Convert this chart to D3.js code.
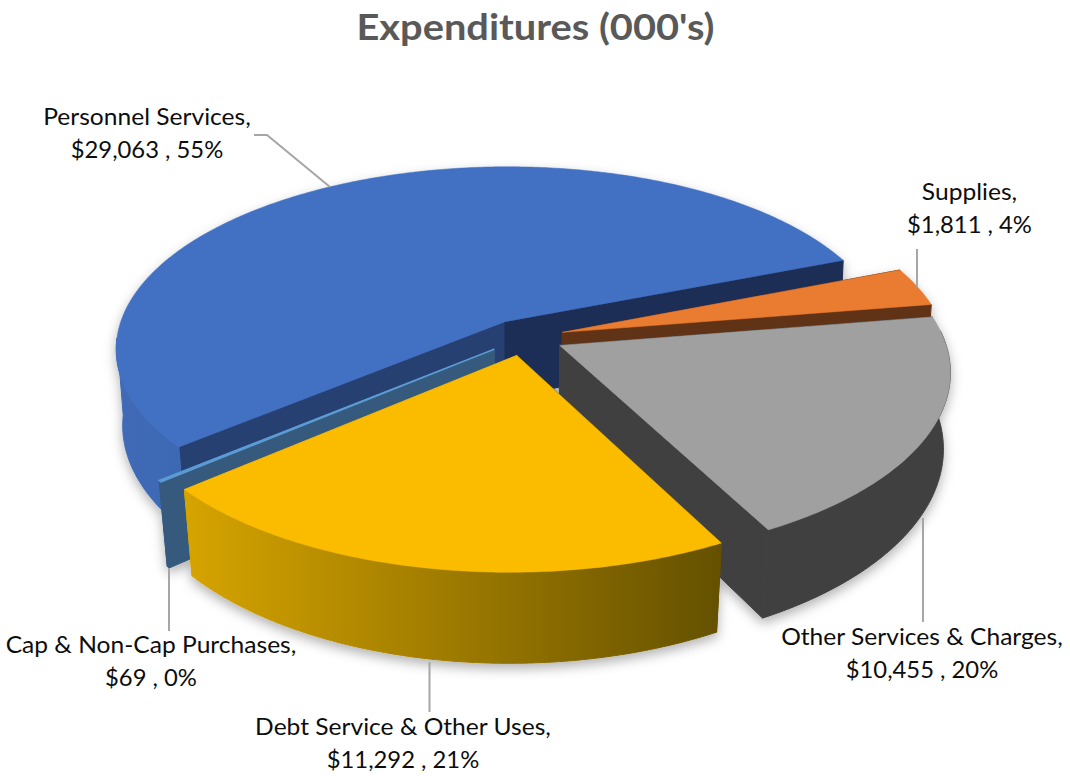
<!DOCTYPE html>
<html><head><meta charset="utf-8">
<script src="https://cdn.jsdelivr.net/npm/d3@7"></script>
<style>html,body{margin:0;padding:0;background:#fff}svg{display:block}text{font-family:Lato,"Open Sans",sans-serif}</style>
</head><body><svg id="c" width="1070" height="776"></svg>
<script>
const chartTitle = "Expenditures (000's)";
const categories = ["Personnel Services","Supplies","Other Services & Charges","Debt Service & Other Uses","Cap & Non-Cap Purchases"];
const values = [29063,1811,10455,11292,69];
const percents = [55,4,20,21,0];

const topColors = ["#4270c2","#ea7b30","#a0a0a0","#fbbc00","#5b9bd5"];
const startWallColors = ["#263f72","#613214","#404040","#665000","#355a7d"];
const endWallColors = ["#1b2e54","#613214","#404040","#d0a000","#355a7d"];
const rimStops = [["#3f6ab6","#3a62aa"],["#613214","#613214"],["#404040","#404040"],["#d6a400","#645000"],["#355a7d","#355a7d"]];
const rimRanges = [[116,500],[900,935],[700,955],[186,723],[160,190]];
// label layout: centre x, first baseline, leader polyline
const labelLayout = [
 {x:147,y:125,leader:[[254,135],[267,135],[330,187]]},
 {x:969.5,y:200,leader:[[917,249],[917,287]]},
 {x:922,y:645,leader:[[923,518],[923,622]]},
 {x:403,y:735,leader:[[429.5,662],[429.5,712]]},
 {x:151,y:653,leader:[[169,568],[169,631]]}
];
const drawOrder = [0,1,2,4,3];

const cam = {a:394.62,b:41.85,c:524.57,d:-9.89,e:-132.93,f:337.19,g:0.01789,h:0.13953,explode:0.10142,depth:77};
const startDeg = -125.09;
const svg = d3.select("#c");
const defs = svg.append("defs");
const f = defs.append("filter").attr("id","sh").attr("x","-10%").attr("y","-10%").attr("width","120%").attr("height","125%");
f.append("feDropShadow").attr("dx",0).attr("dy",5).attr("stdDeviation",6).attr("flood-color","#000").attr("flood-opacity",0.3);

const toRad = Math.PI/180;
const pie = d3.pie().sort(null).startAngle(startDeg*toRad).endAngle((360+startDeg)*toRad);
const arcs = pie(values);

function proj(X,Y,bottom){
  const w = 1+cam.g*X+cam.h*Y;
  let x = (cam.a*X+cam.b*Y+cam.c)/w, y = (cam.d*X+cam.e*Y+cam.f)/w;
  if(bottom){
    const k = Math.max(0.006,0.024-(w-0.87)*0.07);
    x = cam.c+(x-cam.c)*(1-k);
    y = y+cam.depth/w;
  }
  return [x,y];
}
const rimPt = (d,a,bottom)=>{
  const m=(d.startAngle+d.endAngle)/2;
  return proj(cam.explode*Math.sin(m)+Math.sin(a),cam.explode*Math.cos(m)+Math.cos(a),bottom);
};
const apex = (d,bottom)=>{
  const m=(d.startAngle+d.endAngle)/2;
  return proj(cam.explode*Math.sin(m),cam.explode*Math.cos(m),bottom);
};
const line = d3.line();
const arcAngles = d=>{
  const n=Math.max(2,Math.ceil((d.endAngle-d.startAngle)/0.01));
  return d3.range(n+1).map(i=>d.startAngle+(d.endAngle-d.startAngle)*i/n);
};

const g = svg.append("g").attr("filter","url(#sh)");
drawOrder.forEach(i=>{
  const d=arcs[i];
  const grad=defs.append("linearGradient").attr("id","rim"+i).attr("gradientUnits","userSpaceOnUse")
    .attr("x1",rimRanges[i][0]).attr("x2",rimRanges[i][1]).attr("y1",0).attr("y2",0);
  grad.append("stop").attr("offset",0).attr("stop-color",rimStops[i][0]);
  grad.append("stop").attr("offset",1).attr("stop-color",rimStops[i][1]);
  const s=g.append("g");
  const as=arcAngles(d);
  const wall=(a,c)=>s.append("path").attr("fill",c).attr("stroke",c).attr("stroke-width",1)
    .attr("d",line([apex(d,false),rimPt(d,a,false),rimPt(d,a,true),apex(d,true)])+"Z");
  wall(d.startAngle,startWallColors[i]);
  wall(d.endAngle,endWallColors[i]);
  const front=as.filter(a=>Math.cos(a)<0);
  if(front.length>1){
    const top=front.map(a=>rimPt(d,a,false)), bot=front.map(a=>rimPt(d,a,true)).reverse();
    s.append("path").attr("fill",`url(#rim${i})`).attr("stroke",`url(#rim${i})`).attr("stroke-width",1).attr("d",line(top.concat(bot))+"Z");
  }
  s.append("path").attr("fill",topColors[i]).attr("stroke",topColors[i]).attr("stroke-width",i===4?1.5:0.5)
    .attr("d",line([apex(d,false)].concat(as.map(a=>rimPt(d,a,false))))+"Z");
});

svg.append("g").selectAll("path").data(labelLayout).join("path")
  .attr("fill","none").attr("stroke","#a6a6a6").attr("stroke-width",2)
  .attr("d",d=>line(d.leader));

// the reference's type is slightly wider than Lato: stretch each line horizontally
function stretched(sel,factor){
  sel.attr("textLength",sel.node().getComputedTextLength()*factor).attr("lengthAdjust","spacingAndGlyphs");
}
const fmt=d3.format(",");
const lg=svg.append("g").attr("text-anchor","middle").attr("font-size",23.2).attr("fill","#0d0d0d");
categories.forEach((c,i)=>{
  stretched(lg.append("text").attr("x",labelLayout[i].x).attr("y",labelLayout[i].y).text(c+","),1.06);
  stretched(lg.append("text").attr("x",labelLayout[i].x).attr("y",labelLayout[i].y+33).text(`$${fmt(values[i])} , ${percents[i]}%`),1.026);
});
stretched(svg.append("text").attr("x",535.5).attr("y",40).attr("text-anchor","middle").attr("font-size",36)
  .attr("font-weight",700).attr("fill","#595959").text(chartTitle),1.105);
</script></body></html>
